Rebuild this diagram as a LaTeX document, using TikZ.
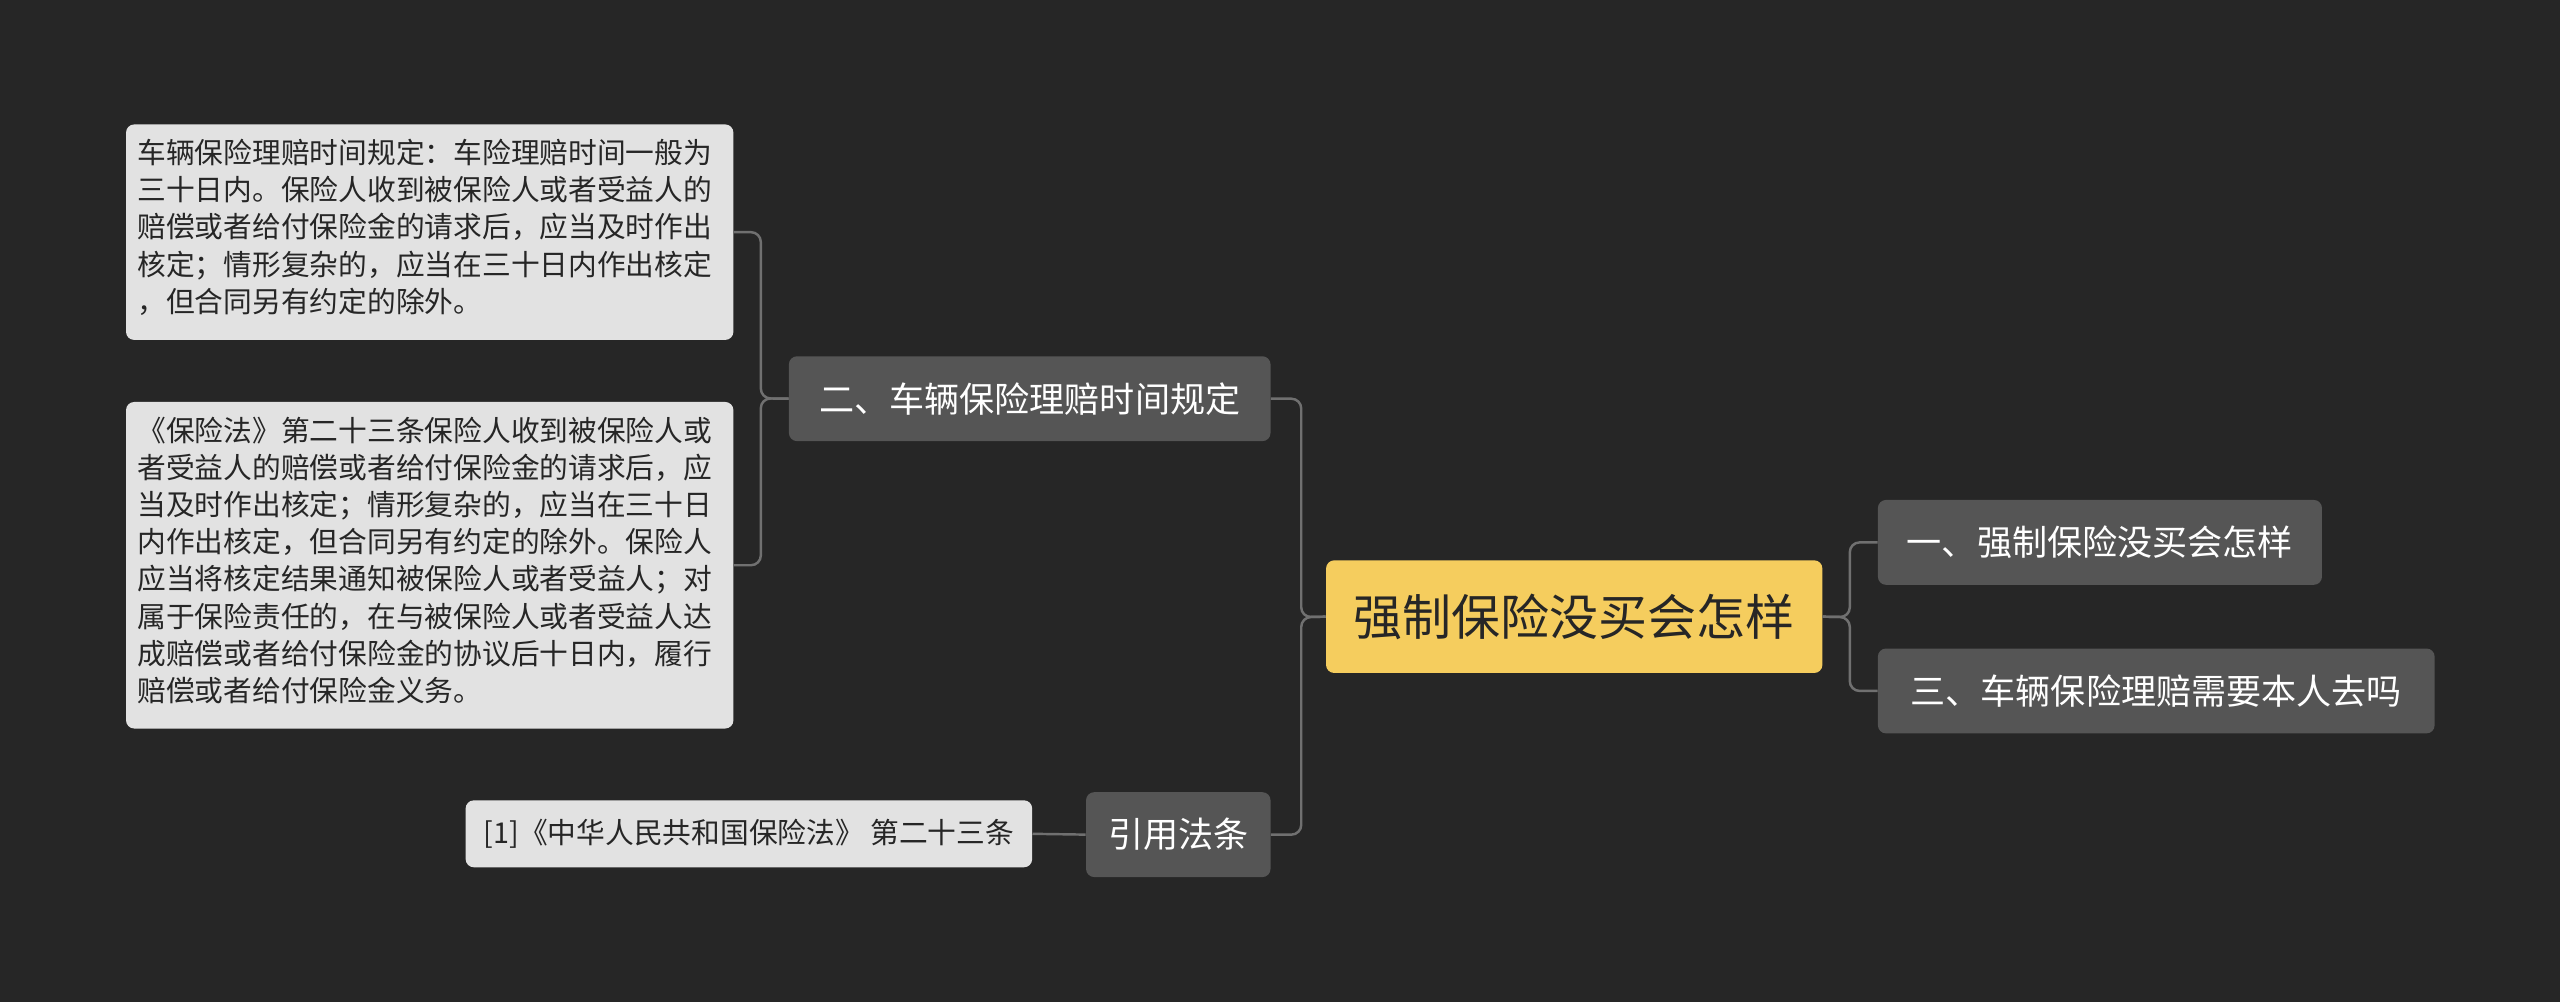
\documentclass[tikz,border=0pt]{standalone}
\usepackage{fontspec}
\setmainfont{Noto Sans CJK SC}
\definecolor{bg}{HTML}{262626}
\definecolor{dk}{HTML}{555555}
\definecolor{lf}{HTML}{E2E2E2}
\definecolor{yl}{HTML}{F5CD5E}
\definecolor{ln}{HTML}{707070}
\tikzset{x=1pt,y=-1pt,
 mid/.style={fill=dk,rounded corners=5pt,text=white,font=\fontsize{21.5}{24}\selectfont,inner sep=0pt,anchor=north west},
 leaf/.style={fill=lf,rounded corners=5pt,text=black!85,font=\fontsize{17.6}{22.8}\selectfont,inner sep=0pt,anchor=north west},
 con/.style={draw=ln,line width=1.5pt,rounded corners=6pt}}
\begin{document}
\begin{tikzpicture}
\fill[bg] (0,0) rectangle (1568,614);
\useasboundingbox (0,0) rectangle (1568,614);
\node[fill=yl,rounded corners=5pt,minimum width=304pt,minimum height=69pt,inner sep=0pt,anchor=north west,text=black!85,font=\fontsize{30}{34}\selectfont] (c) at (812,343) {强制保险没买会怎样};
\node[mid,minimum width=272pt,minimum height=52pt] (r1) at (1150,306) {一、强制保险没买会怎样};
\node[mid,minimum width=341pt,minimum height=52pt] (r2) at (1150,397) {三、车辆保险理赔需要本人去吗};
\node[mid,minimum width=295pt,minimum height=52pt] (l1) at (483,218) {二、车辆保险理赔时间规定};
\node[mid,minimum width=113pt,minimum height=52pt] (l2) at (665,485) {引用法条};
\node[leaf,minimum width=372pt,minimum height=132pt] (a) at (77,76) {};
\node[leaf,anchor=north west,align=left] at (84,85) {车辆保险理赔时间规定：车险理赔时间一般为\\三十日内。保险人收到被保险人或者受益人的\\赔偿或者给付保险金的请求后，应当及时作出\\核定；情形复杂的，应当在三十日内作出核定\\，但合同另有约定的除外。};
\node[leaf,minimum width=372pt,minimum height=200pt] (b) at (77,246) {};
\node[leaf,anchor=north west,align=left] at (84,255) {《保险法》第二十三条保险人收到被保险人或\\者受益人的赔偿或者给付保险金的请求后，应\\当及时作出核定；情形复杂的，应当在三十日\\内作出核定，但合同另有约定的除外。保险人\\应当将核定结果通知被保险人或者受益人；对\\属于保险责任的，在与被保险人或者受益人达\\成赔偿或者给付保险金的协议后十日内，履行\\赔偿或者给付保险金义务。};
\node[leaf,minimum width=347pt,minimum height=41pt] (d) at (285,490) {[1]《中华人民共和国保险法》 第二十三条};
\draw[con] (c.west) -- (797,378) |- (l1.east);
\draw[con] (c.west) -- (797,378) |- (l2.east);
\draw[con] (c.east) -- (1133,378) |- (r1.west);
\draw[con] (c.east) -- (1133,378) |- (r2.west);
\draw[con] (l1.west) -- (466,244) |- (a.east);
\draw[con] (l1.west) -- (466,244) |- (b.east);
\draw[con] (l2.west) -- (d.east);
\end{tikzpicture}
\end{document}
